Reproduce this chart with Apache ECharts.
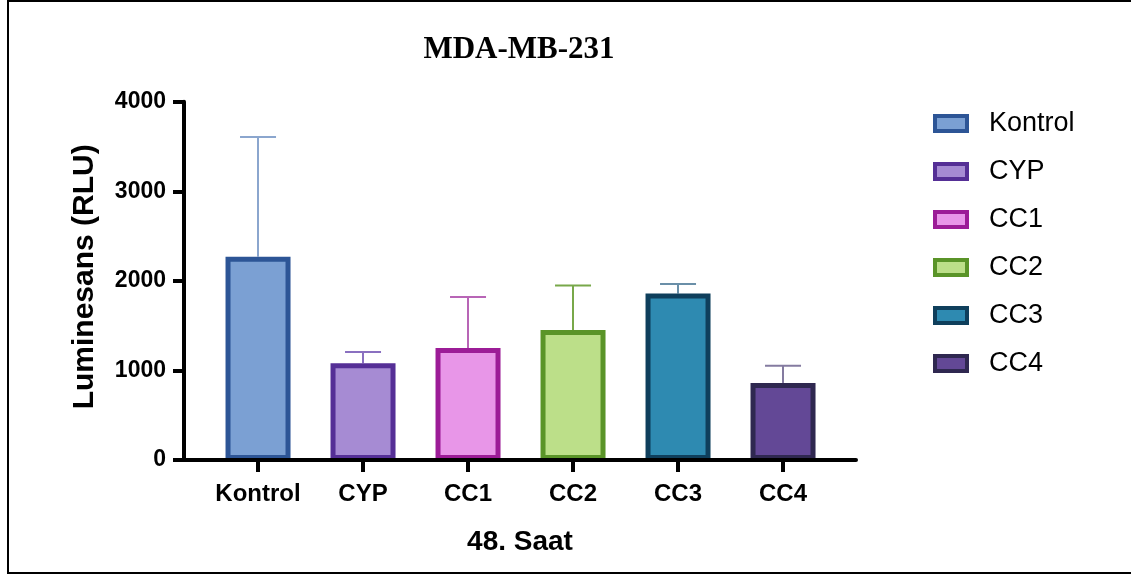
<!DOCTYPE html>
<html>
<head>
<meta charset="utf-8">
<script src="https://cdn.jsdelivr.net/npm/echarts@6/dist/echarts.min.js"></script>
<style>
  html, body { margin: 0; padding: 0; background: #fff; overflow: hidden; }
  #wrap { position: relative; width: 1131px; height: 575px; overflow: hidden; }
  #frame { position: absolute; left: 7px; top: 0px; width: 1140px; height: 570px; border: 2px solid #000; box-sizing: content-box; pointer-events: none; }
  #chart { position: absolute; left: 0; top: 0; width: 1131px; height: 575px; }
</style>
</head>
<body>
<div id="wrap">
  <div id="chart"></div>
  <div id="frame"></div>
</div>
<script>
// Groups measured after 48 hours
const categories = ['Kontrol', 'CYP', 'CC1', 'CC2', 'CC3', 'CC4'];
// Mean luminescence (RLU) per group
const means = [2270, 1080, 1250, 1450, 1858, 860];
// Standard deviation per group (upper error bar only)
const sds = [1335, 125, 569, 499, 106, 192];
// Y axis tick values
const yTicks = [0, 1000, 2000, 3000, 4000];

const fillColors   = ['#7BA0D3', '#A68BD3', '#E896E8', '#BCDF89', '#2E8AB1', '#634896'];
const borderColors = ['#2D5596', '#552F96', '#9C1C97', '#5A9428', '#0F3F5C', '#2F2850'];
const errorColors  = ['#8BA6CE', '#8A70C0', '#B865B6', '#78A84A', '#6A8FA8', '#847BA0'];

const SANS = 'Liberation Sans';

const barSeries = categories.map((name, i) => ({
  name: name,
  type: 'bar',
  barWidth: 65,
  barGap: '-100%',
  z: 3,
  itemStyle: { color: fillColors[i], borderColor: borderColors[i], borderWidth: 5 },
  data: [[i, means[i]]]
}));

const errorSeries = {
  type: 'custom',
  z: 2,
  silent: true,
  data: categories.map((c, i) => [i, means[i], means[i] + sds[i]]),
  renderItem: function (params, api) {
    const i = api.value(0);
    const base = api.coord([i, api.value(1)]);
    const top = api.coord([i, api.value(2)]);
    const half = 18;
    const style = { stroke: errorColors[params.dataIndex], lineWidth: 2, fill: null };
    return {
      type: 'group',
      children: [
        { type: 'line', shape: { x1: base[0], y1: base[1], x2: top[0], y2: top[1] }, style: style },
        { type: 'line', shape: { x1: top[0] - half, y1: top[1], x2: top[0] + half, y2: top[1] }, style: style }
      ]
    };
  }
};

const chart = echarts.init(document.getElementById('chart'), null, { renderer: 'canvas' });
chart.setOption({
  animation: false,
  backgroundColor: '#fff',
  title: {
    text: 'MDA-MB-231',
    left: 514,
    top: 29,
    textAlign: 'center',
    textStyle: { fontFamily: 'Liberation Serif', fontWeight: 'bold', fontSize: 31, color: '#000' }
  },
  legend: {
    data: categories,
    orient: 'vertical',
    left: 933,
    top: 110,
    padding: 0,
    icon: 'rect',
    itemWidth: 32,
    itemHeight: 15,
    itemGap: 21,
    itemStyle: { borderWidth: 4 },
    textStyle: { fontFamily: SANS, fontSize: 27, lineHeight: 27, color: '#000', padding: [0, 0, 0, 17] }
  },
  grid: { left: 184, top: 101.7, width: 672, height: 358.3, containLabel: false },
  xAxis: {
    type: 'value',
    min: -0.705,
    max: 5.695,
    z: 5,
    splitLine: { show: false },
    axisLine: { show: true, onZero: false, lineStyle: { color: '#000', width: 4 } },
    axisTick: { show: true, customValues: categories.map((c, i) => i), length: 12, lineStyle: { color: '#000', width: 4 } },
    axisLabel: {
      customValues: categories.map((c, i) => i),
      formatter: v => categories[Math.round(v)] || '',
      margin: 22,
      fontFamily: SANS, fontWeight: 'bold', fontSize: 24, color: '#000'
    },
    name: '48. Saat',
    nameLocation: 'middle',
    nameGap: 68,
    nameTextStyle: { fontFamily: SANS, fontWeight: 'bold', fontSize: 28, color: '#000' }
  },
  yAxis: {
    type: 'value',
    min: yTicks[0],
    max: yTicks[yTicks.length - 1],
    interval: 1000,
    z: 5,
    splitLine: { show: false },
    axisLine: { show: true, onZero: false, lineStyle: { color: '#000', width: 4 } },
    axisTick: { show: true, length: 11, lineStyle: { color: '#000', width: 4 } },
    axisLabel: { margin: 18, formatter: v => String(v), fontFamily: SANS, fontWeight: 'bold', fontSize: 23, color: '#000' },
    name: 'Luminesans (RLU)',
    nameLocation: 'middle',
    nameGap: 84,
    nameTextStyle: { fontFamily: SANS, fontWeight: 'bold', fontSize: 30, color: '#000', padding: [0, 0, 0, 8] }
  },
  series: [errorSeries].concat(barSeries)
});
</script>
</body>
</html>
